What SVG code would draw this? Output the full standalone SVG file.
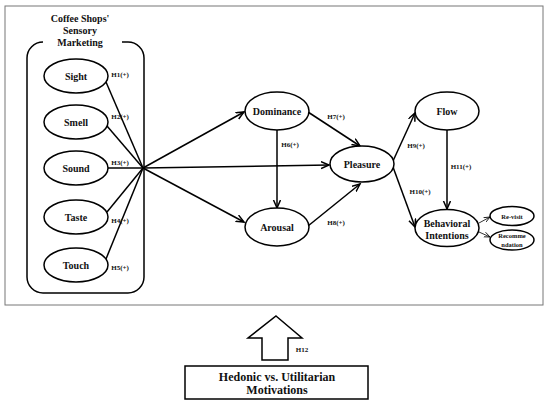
<svg xmlns="http://www.w3.org/2000/svg" width="550" height="407" viewBox="0 0 550 407">
<style>
text{font-family:"Liberation Serif","Times New Roman",serif;font-weight:bold;fill:#111;text-anchor:middle}
.n{font-size:10px}
.h{font-size:7px}
.s{font-size:6.5px}
.e{fill:#fff;stroke:#000;stroke-width:1.5}
.c{fill:none;stroke:#000;stroke-width:1.5}
.t{fill:none;stroke:#000;stroke-width:0.8}
</style>
<defs>
<marker id="ah" markerUnits="userSpaceOnUse" markerWidth="10" markerHeight="10" refX="8" refY="4" orient="auto">
<path d="M0,0.5 L8,4 L0,7.5" fill="none" stroke="#000" stroke-width="1.5"/>
</marker>
<marker id="as" markerUnits="userSpaceOnUse" markerWidth="8" markerHeight="8" refX="6" refY="3" orient="auto">
<path d="M0,0.5 L6,3 L0,5.5" fill="none" stroke="#000" stroke-width="0.8"/>
</marker>
</defs>
<rect x="5" y="6" width="538" height="299" fill="#fff" stroke="#777" stroke-width="1"/>
<g id="sensory-group">
<path class="c" d="M122,42 L128,42 A16,16 0 0 1 144,58 L144,277 A16,16 0 0 1 128,293 L43,293 A16,16 0 0 1 27,277 L27,58 A16,16 0 0 1 43,42"/>
<text class="n" x="80" y="22">Coffee Shops'</text>
<text class="n" x="80" y="34">Sensory</text>
<text class="n" x="80" y="46">Marketing</text>
</g>
<g id="connectors">
<line class="c" x1="106" y1="82" x2="143" y2="168"/>
<line class="c" x1="107" y1="126" x2="143" y2="168"/>
<line class="c" x1="108" y1="168" x2="143" y2="168"/>
<line class="c" x1="107" y1="212" x2="143" y2="168"/>
<line class="c" x1="106" y1="259" x2="143" y2="168"/>
<line class="c" x1="143" y1="168" x2="244" y2="112" marker-end="url(#ah)"/>
<line class="c" x1="143" y1="168" x2="244" y2="222" marker-end="url(#ah)"/>
<line class="c" x1="143" y1="168" x2="329" y2="165" marker-end="url(#ah)"/>
<line class="c" x1="277" y1="130" x2="277" y2="208" marker-end="url(#ah)"/>
<line class="c" x1="308" y1="112" x2="360" y2="146" marker-end="url(#ah)"/>
<line class="c" x1="308" y1="226" x2="360" y2="184" marker-end="url(#ah)"/>
<line class="c" x1="393" y1="161" x2="415" y2="113" marker-end="url(#ah)"/>
<line class="c" x1="393" y1="167" x2="415" y2="227" marker-end="url(#ah)"/>
<line class="c" x1="447" y1="130" x2="447" y2="209" marker-end="url(#ah)"/>
<line class="t" x1="479" y1="223" x2="490" y2="217" marker-end="url(#as)"/>
<line class="t" x1="479" y1="232" x2="490" y2="237" marker-end="url(#as)"/>
<text class="h" x="120" y="77">H1(+)</text>
<text class="h" x="120" y="119">H2(+)</text>
<text class="h" x="120" y="165">H3(+)</text>
<text class="h" x="120" y="223">H4(+)</text>
<text class="h" x="120" y="270">H5(+)</text>
<text class="h" x="290" y="147">H6(+)</text>
<text class="h" x="336" y="119">H7(+)</text>
<text class="h" x="336" y="225">H8(+)</text>
<text class="h" x="416" y="148">H9(+)</text>
<text class="h" x="420" y="194">H10(+)</text>
<text class="h" x="461" y="169">H11(+)</text>
</g>
<g id="sight"><ellipse class="e" cx="76" cy="76" rx="32" ry="17"/><text class="n" x="76" y="79.5">Sight</text></g>
<g id="smell"><ellipse class="e" cx="76" cy="122" rx="32" ry="17"/><text class="n" x="76" y="125.5">Smell</text></g>
<g id="sound"><ellipse class="e" cx="76" cy="168" rx="32" ry="17"/><text class="n" x="76" y="171.5">Sound</text></g>
<g id="taste"><ellipse class="e" cx="76" cy="217" rx="32" ry="17"/><text class="n" x="76" y="220.5">Taste</text></g>
<g id="touch"><ellipse class="e" cx="76" cy="265" rx="32" ry="17"/><text class="n" x="76" y="268.5">Touch</text></g>
<g id="dominance"><ellipse class="e" cx="277" cy="111" rx="32" ry="19"/><text class="n" x="277" y="114.5">Dominance</text></g>
<g id="arousal"><ellipse class="e" cx="277" cy="227" rx="32" ry="19"/><text class="n" x="277" y="230.5">Arousal</text></g>
<g id="pleasure"><ellipse class="e" cx="362" cy="164" rx="32" ry="18"/><text class="n" x="362" y="167.5">Pleasure</text></g>
<g id="flow"><ellipse class="e" cx="447" cy="111" rx="32" ry="19"/><text class="n" x="447" y="114.5">Flow</text></g>
<g id="behavioral"><ellipse class="e" cx="447" cy="228" rx="32" ry="18.5"/><text class="n" x="447" y="226.5">Behavioral</text><text class="n" x="447" y="238.5">Intentions</text></g>
<g id="revisit"><ellipse class="e" cx="512" cy="216" rx="22" ry="9.5"/><text class="s" x="512" y="218.5">Re-visit</text></g>
<g id="recommendation"><ellipse class="e" cx="512" cy="240" rx="22" ry="10"/><text class="s" x="512" y="238">Recomme</text><text class="s" x="512" y="246.5">ndation</text></g>
<g id="h12-arrow">
<path d="M276,316 L302,338 L288,338 L288,360 L262,360 L262,338 L248,338 Z" fill="#fff" stroke="#000" stroke-width="1.5"/>
<text class="h" x="302" y="352">H12</text>
</g>
<g id="motivations">
<rect x="185" y="366" width="183" height="33" fill="#fff" stroke="#000" stroke-width="1.5"/>
<text x="277" y="381" font-size="12">Hedonic vs. Utilitarian</text>
<text x="277" y="394" font-size="12">Motivations</text>
</g>
</svg>
